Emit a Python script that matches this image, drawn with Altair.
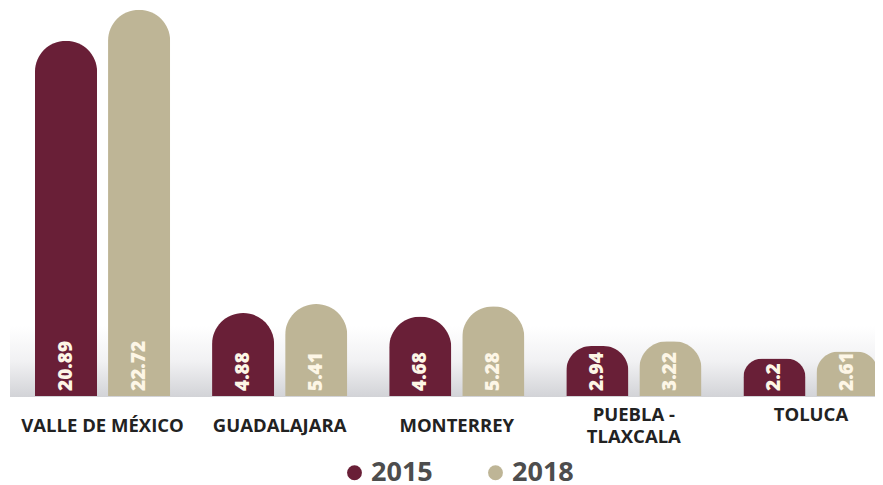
import altair as alt
import pandas as pd

regions = ["VALLE DE MÉXICO", "GUADALAJARA", "MONTERREY", "PUEBLA - TLAXCALA", "TOLUCA"]
years = ["2015", "2018"]
values_2015 = [20.89, 4.88, 4.68, 2.94, 2.2]
values_2018 = [22.72, 5.41, 5.28, 3.22, 2.61]
colors = ["#691f37", "#beb596"]

rows = []
for r, a, b in zip(regions, values_2015, values_2018):
    rows.append({"region": r, "year": "2015", "value": a})
    rows.append({"region": r, "year": "2018", "value": b})
df = pd.DataFrame(rows)

FONT = "Open Sans"

x_scale = alt.Scale(domain=regions, range=[6, 891.5], paddingInner=0, paddingOuter=0)
y_scale = alt.Scale(domain=[0, 22.82], nice=False, zero=True)
xoff_scale = alt.Scale(domain=years, paddingInner=0.15, paddingOuter=0.287)

label_expr = "datum.label == 'PUEBLA - TLAXCALA' ? ['PUEBLA -', 'TLAXCALA'] : datum.label"
raised = "datum.value == 'PUEBLA - TLAXCALA' || datum.value == 'TOLUCA'"

band = alt.Chart(pd.DataFrame({"a": [0]})).mark_rect(
    fill=alt.Gradient(
        gradient="linear",
        stops=[alt.GradientStop(color="#ffffff", offset=0),
               alt.GradientStop(color="#f1f1f3", offset=0.5),
               alt.GradientStop(color="#d2d3d7", offset=1)],
        x1=0, x2=0, y1=0, y2=1,
    )
).encode(
    x=alt.value(2), x2=alt.value(875),
    y=alt.value(318), y2=alt.value(389),
)

base = alt.Chart(df).encode(
    x=alt.X("region:N", scale=x_scale, sort=regions,
            axis=alt.Axis(title=None, ticks=False, domain=False, grid=False,
                          labelAngle=0, labelFont=FONT, labelFontSize=18.5,
                          labelFontWeight="bold", labelColor="#222222",
                          labelBaseline="middle",
                          labelPadding={"condition": {"test": raised, "value": 18}, "value": 29},
                          labelLineHeight=22, labelExpr=label_expr,
                          labelLimit=300)),
    xOffset=alt.XOffset("year:N", scale=xoff_scale, sort=years),
)

bars = base.mark_bar(cornerRadiusTopLeft=31, cornerRadiusTopRight=31).encode(
    y=alt.Y("value:Q", scale=y_scale, axis=None),
    color=alt.Color("year:N", scale=alt.Scale(domain=years, range=colors),
                    legend=alt.Legend(title=None, orient="none", legendX=333, legendY=451,
                                      direction="horizontal", symbolType="circle",
                                      symbolSize=220, symbolStrokeWidth=0,
                                      labelFont=FONT, labelFontSize=27,
                                      labelFontWeight="bold", labelColor="#4d4d4d",
                                      labelOffset=3, columnPadding=49)),
)

labels = base.mark_text(angle=270, align="left", baseline="middle", dx=5,
                        font=FONT, fontSize=19, fontWeight=800,
                        color="#fdf6e6").encode(
    y=alt.Y("zero:Q", scale=y_scale, axis=None),
    text=alt.Text("value:Q"),
).transform_calculate(zero="0")

chart = alt.layer(band, bars, labels).properties(
    width=867, height=388,
    autosize=alt.AutoSizeParams(type="none"),
    padding={"left": 0, "top": 0, "right": 0, "bottom": 88},
    background="white",
).configure_view(stroke=None)

chart.save("out.html", embed_options={"renderer": "svg", "actions": False})
